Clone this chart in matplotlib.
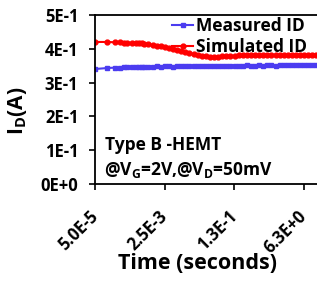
import matplotlib
matplotlib.use("Agg")
import matplotlib.pyplot as plt
from matplotlib.ticker import FixedLocator, NullLocator

plt.rcParams["font.family"] = ["Open Sans", "DejaVu Sans"]
plt.rcParams["font.weight"] = "bold"
plt.rcParams["mathtext.fontset"] = "custom"
plt.rcParams["mathtext.rm"] = "Open Sans:bold"
plt.rcParams["mathtext.it"] = "Open Sans:bold"
plt.rcParams["mathtext.bf"] = "Open Sans:bold"

# time points (s)
time_s = [5e-5, 1e-4, 1.5e-4, 2e-4, 2.5e-4, 3e-4, 4e-4, 5e-4, 6e-4, 7e-4, 8e-4,
          1e-3, 1.3e-3, 1.6e-3, 2e-3, 2.5e-3, 3.2e-3, 4e-3, 5e-3, 6.3e-3, 8e-3,
          1e-2, 1.3e-2, 1.6e-2, 2e-2, 2.5e-2, 3.2e-2, 4e-2, 5e-2, 6.3e-2, 8e-2,
          0.1, 0.13, 0.16, 0.2, 0.25, 0.32, 0.4, 0.5, 0.63, 0.8,
          1.0, 1.3, 1.6, 2.0, 2.5, 3.2, 4.0, 5.0, 6.3, 8.0, 10.0, 12.5]

measured_id = [0.340, 0.343, 0.344, 0.342, 0.345, 0.345, 0.346, 0.346, 0.347, 0.346, 0.347,
               0.347, 0.347, 0.348, 0.347, 0.348, 0.348, 0.347, 0.348, 0.348, 0.349,
               0.348, 0.349, 0.348, 0.349, 0.349, 0.350, 0.349, 0.349, 0.350, 0.349,
               0.350, 0.350, 0.349, 0.350, 0.351, 0.350, 0.350, 0.351, 0.350, 0.351,
               0.351, 0.350, 0.351, 0.351, 0.352, 0.351, 0.351, 0.352, 0.351, 0.352, 0.352, 0.352]

simulated_id = [0.420, 0.420, 0.419, 0.419, 0.418, 0.418, 0.417, 0.417, 0.416, 0.416, 0.415,
                0.413, 0.411, 0.409, 0.407, 0.404, 0.401, 0.398, 0.395, 0.392, 0.389,
                0.386, 0.383, 0.381, 0.379, 0.378, 0.377, 0.377, 0.377, 0.378, 0.378,
                0.379, 0.379, 0.380, 0.380, 0.380, 0.381, 0.381, 0.381, 0.381, 0.382,
                0.382, 0.382, 0.382, 0.382, 0.382, 0.382, 0.382, 0.382, 0.382, 0.382, 0.382, 0.382]

x_ticks = [5e-5, 2.5e-3, 1.25e-1, 6.25]
x_tick_labels = ["5.0E-5", "2.5E-3", "1.3E-1", "6.3E+0"]
y_ticks = [0, 0.1, 0.2, 0.3, 0.4, 0.5]
y_tick_labels = ["0E+0", "1E-1", "2E-1", "3E-1", "4E-1", "5E-1"]

fig = plt.figure(figsize=(3.17, 2.81), dpi=100)
ax = fig.add_axes([0.300, 0.345, 0.700, 0.602])

ax.plot(time_s, measured_id, color="#4b3cf0", marker="s", markersize=3.5,
        linewidth=1.5, label="Measured ID")
ax.plot(time_s, simulated_id, color="#ff0000", marker="o", markersize=3.5,
        linewidth=1.5, label="Simulated ID")

ax.set_xscale("log")
ax.set_xlim(5e-5, 12.9)
ax.set_ylim(0, 0.5)
ax.xaxis.set_major_locator(FixedLocator(x_ticks))
ax.xaxis.set_minor_locator(NullLocator())
ax.set_xticklabels(x_tick_labels, rotation=45, ha="right", va="center",
                   rotation_mode="anchor")
ax.set_yticks(y_ticks)
ax.set_yticklabels(y_tick_labels)
ax.tick_params(axis="both", direction="out", length=4, width=1.2,
               labelsize=12, pad=8)
ax.tick_params(axis="x", pad=17)

for side in ["left", "bottom", "top"]:
    ax.spines[side].set_linewidth(1.3)
ax.spines["right"].set_visible(False)

ax.set_xlabel("Time (seconds)", fontsize=15.5, fontweight="bold")
ax.xaxis.set_label_coords(0.46, -0.41)
ax.set_ylabel(r"$\mathrm{I_D(A)}$", fontsize=15)
ax.yaxis.set_label_coords(-0.30, 0.43)

ax.text(0.045, 0.23, "Type B -HEMT", transform=ax.transAxes, fontsize=12.5,
        fontweight="bold", va="center")
ax.text(0.04, 0.085, r"@V$_\mathrm{G}$=2V,@V$_\mathrm{D}$=50mV",
        transform=ax.transAxes, fontsize=12.5, fontweight="bold", va="center")

ax.legend(loc="upper right", bbox_to_anchor=(0.965, 1.0), frameon=False,
          fontsize=12.5, handlelength=1.2, handletextpad=0.2,
          labelspacing=0.2, borderaxespad=0.0, borderpad=0.1)

fig.savefig("out.png", dpi=100)
